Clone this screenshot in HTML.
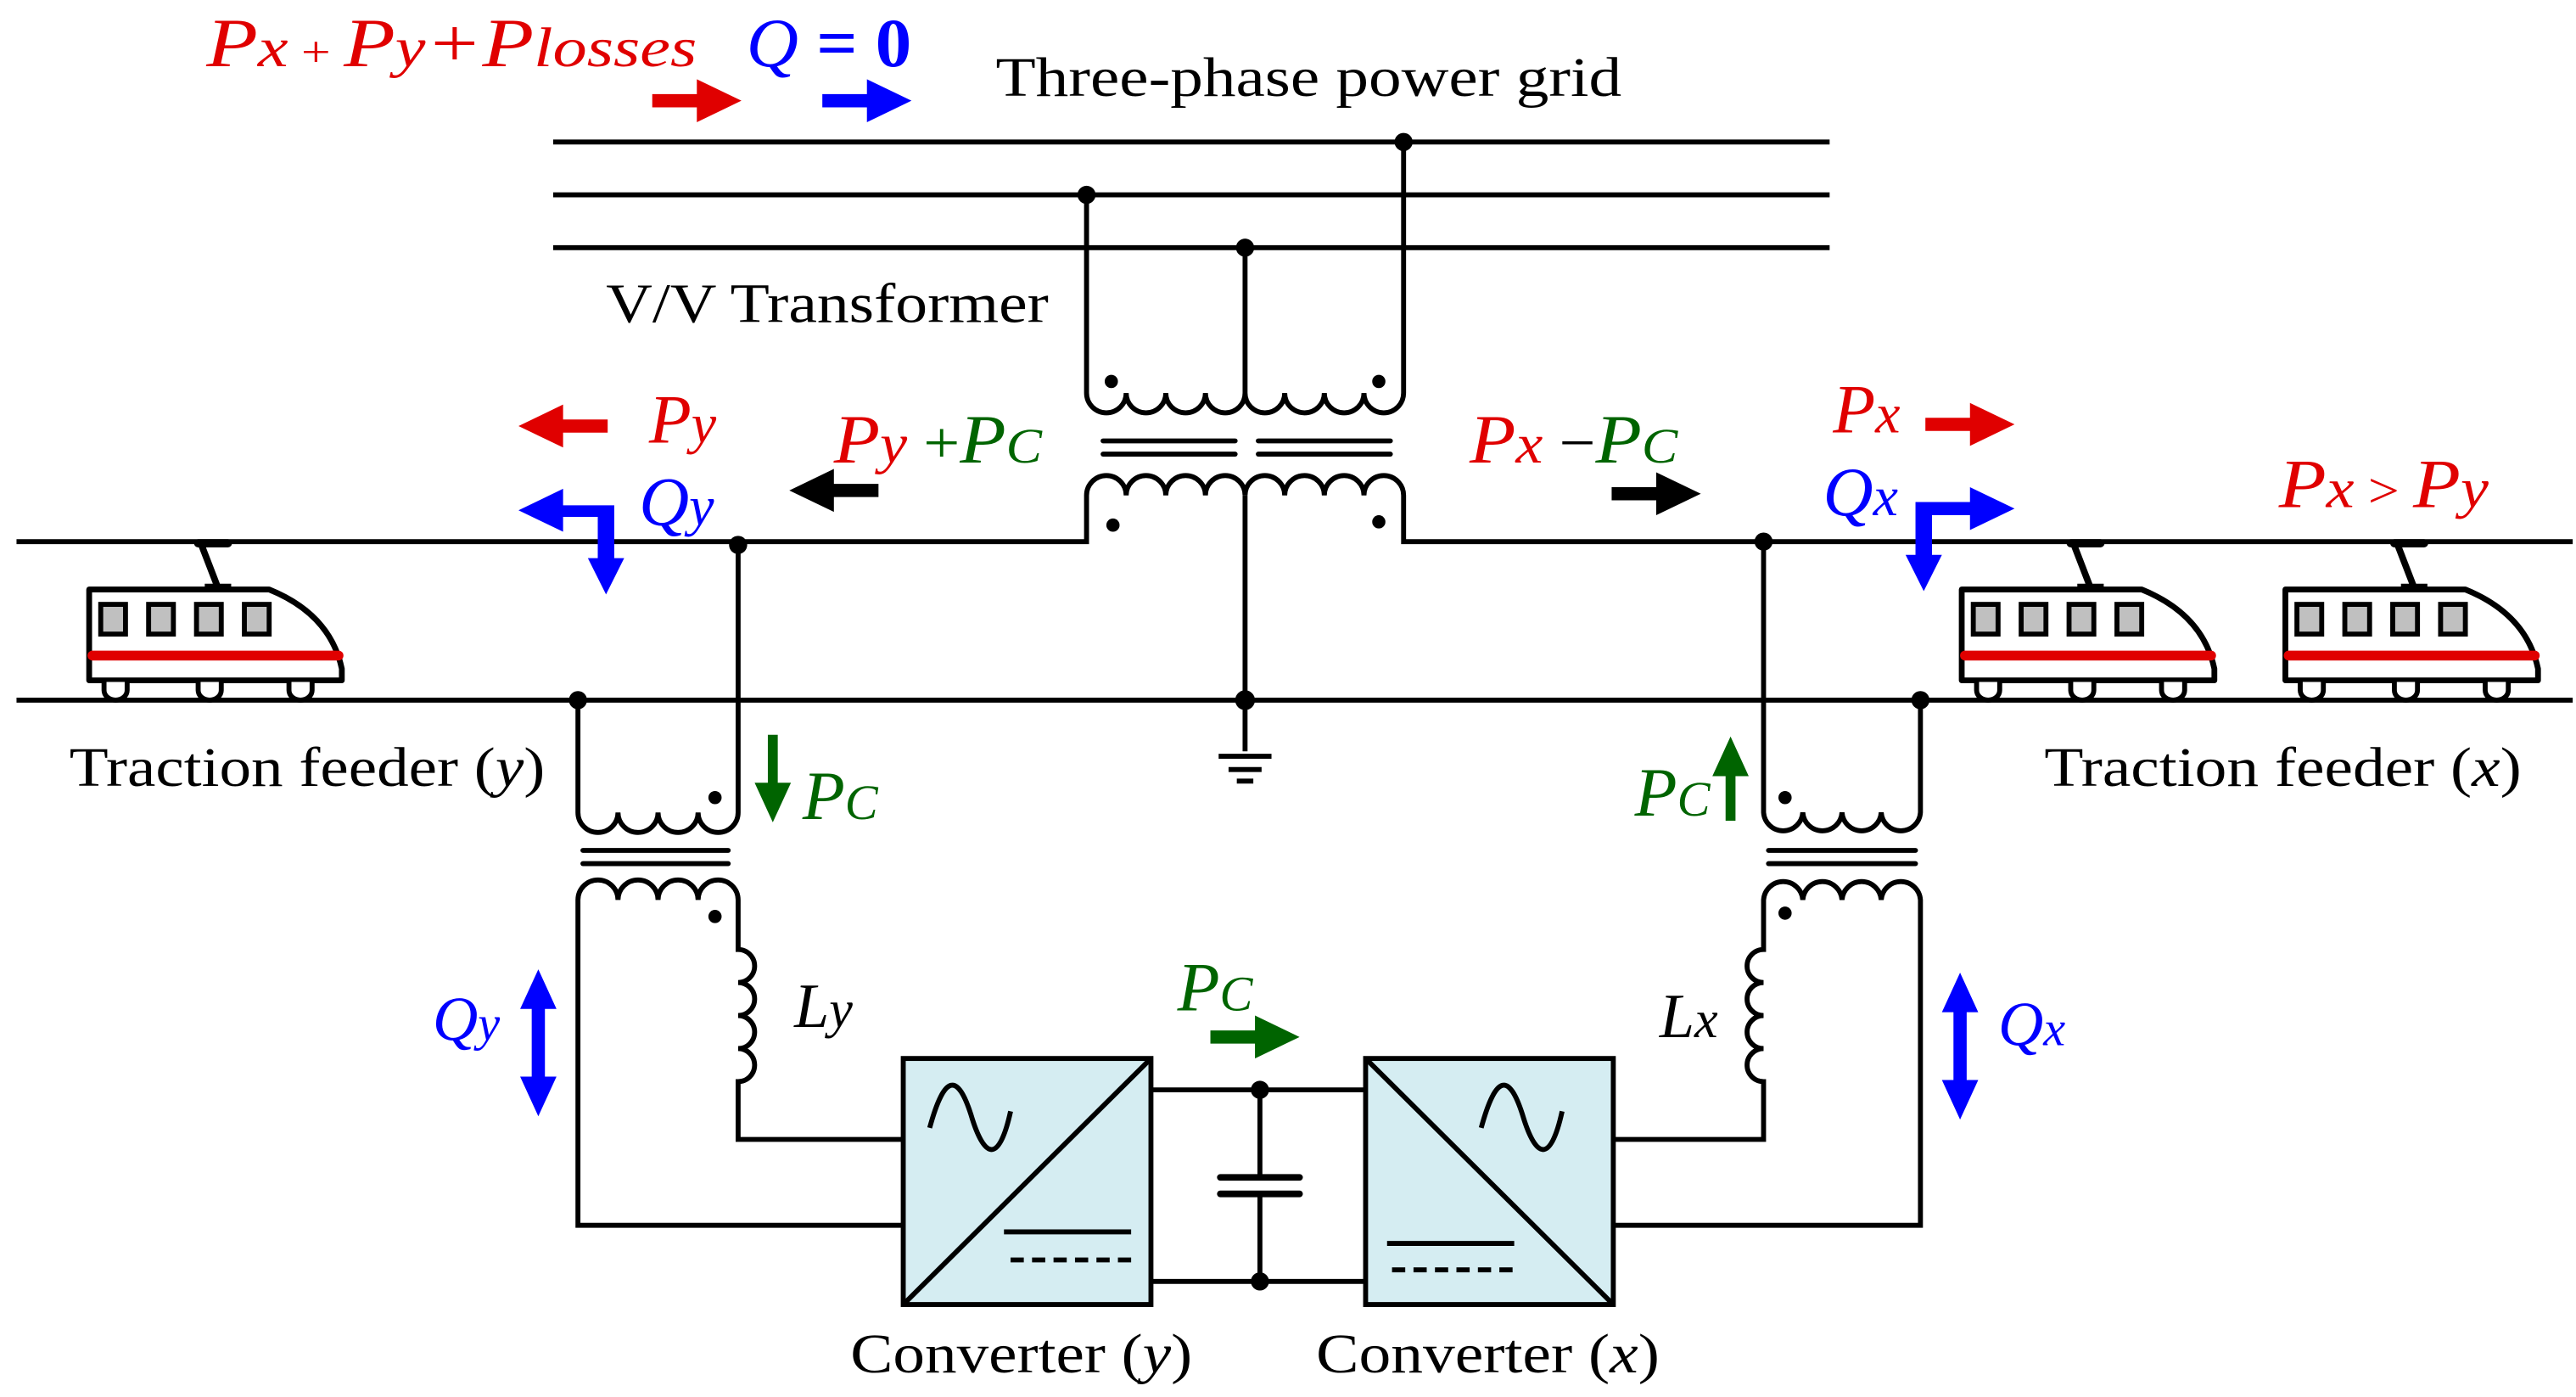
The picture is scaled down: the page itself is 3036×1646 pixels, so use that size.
<!DOCTYPE html>
<html><head><meta charset="utf-8"><style>
html,body{margin:0;padding:0;background:#fff;}
svg{display:block;}
text{font-family:"Liberation Serif","DejaVu Serif",serif;}
</style></head><body>
<svg width="3036" height="1646" viewBox="0 0 1560 846" preserveAspectRatio="none" xmlns="http://www.w3.org/2000/svg">
<defs>
<g id="train">
 <line x1="120" y1="329" x2="138" y2="329" stroke="#000" stroke-width="5" stroke-linecap="round"/>
 <line x1="122" y1="330" x2="132" y2="356" stroke="#000" stroke-width="4"/>
 <line x1="124" y1="356" x2="140" y2="356" stroke="#000" stroke-width="5"/>
 <path d="M54,357 H163 Q200,372 207,405 V412 H54 Z" fill="#fff" stroke="#000" stroke-width="3.5" stroke-linejoin="round"/>
 <rect x="61" y="366" width="15" height="18" fill="#c0c0c0" stroke="#000" stroke-width="3"/>
 <rect x="90" y="366" width="15" height="18" fill="#c0c0c0" stroke="#000" stroke-width="3"/>
 <rect x="119" y="366" width="15" height="18" fill="#c0c0c0" stroke="#000" stroke-width="3"/>
 <rect x="148" y="366" width="15" height="18" fill="#c0c0c0" stroke="#000" stroke-width="3"/>
 <line x1="56" y1="397" x2="205" y2="397" stroke="#e00000" stroke-width="6" stroke-linecap="round"/>
 <path d="M63,413 v5 a7,6 0 0 0 14,0 v-5 M120,413 v5 a7,6 0 0 0 14,0 v-5 M175,413 v5 a7,6 0 0 0 14,0 v-5" fill="#fff" stroke="#000" stroke-width="3"/>
</g>
</defs>

<g stroke="#000" stroke-width="3" fill="none">
 <line x1="335" y1="86" x2="1108" y2="86"/>
 <line x1="335" y1="118" x2="1108" y2="118"/>
 <line x1="335" y1="150" x2="1108" y2="150"/>
 <path d="M658,118 V238 a12,12 0 0 0 24,0 a12,12 0 0 0 24,0 a12,12 0 0 0 24,0 a12,12 0 0 0 24,0 a12,12 0 0 0 24,0 a12,12 0 0 0 24,0 a12,12 0 0 0 24,0 a12,12 0 0 0 24,0 V86"/>
 <line x1="754" y1="150" x2="754" y2="238"/>
 <path d="M10,328 H658 V300 a12,12 0 0 1 24,0 a12,12 0 0 1 24,0 a12,12 0 0 1 24,0 a12,12 0 0 1 24,0 a12,12 0 0 1 24,0 a12,12 0 0 1 24,0 a12,12 0 0 1 24,0 a12,12 0 0 1 24,0 V328 H1558"/>
 <line x1="754" y1="300" x2="754" y2="455"/>
 <line x1="668" y1="267" x2="748" y2="267" stroke-linecap="round"/>
 <line x1="668" y1="275" x2="748" y2="275" stroke-linecap="round"/>
 <line x1="762" y1="267" x2="842" y2="267" stroke-linecap="round"/>
 <line x1="762" y1="275" x2="842" y2="275" stroke-linecap="round"/>
 <line x1="738" y1="458" x2="770" y2="458"/>
 <line x1="744" y1="466" x2="764" y2="466"/>
 <line x1="749" y1="473" x2="759" y2="473"/>
 <line x1="10" y1="424" x2="1558" y2="424"/>

 <path d="M350,424 V492 a12.1,12.1 0 0 0 24.25,0 a12.1,12.1 0 0 0 24.25,0 a12.1,12.1 0 0 0 24.25,0 a12.1,12.1 0 0 0 24.25,0 V330"/>
 <line x1="353" y1="515" x2="441" y2="515" stroke-linecap="round"/>
 <line x1="353" y1="523" x2="441" y2="523" stroke-linecap="round"/>
 <path d="M547,742 H350 V545 a12.1,12.1 0 0 1 24.25,0 a12.1,12.1 0 0 1 24.25,0 a12.1,12.1 0 0 1 24.25,0 a12.1,12.1 0 0 1 24.25,0 V575 a10,10 0 0 1 0,20 a10,10 0 0 1 0,20 a10,10 0 0 1 0,20 a10,10 0 0 1 0,20 V690 H547"/>

 <path d="M1068,328 V492 a11.9,11.9 0 0 0 23.75,0 a11.9,11.9 0 0 0 23.75,0 a11.9,11.9 0 0 0 23.75,0 a11.9,11.9 0 0 0 23.75,0 V424"/>
 <line x1="1071" y1="515" x2="1160" y2="515" stroke-linecap="round"/>
 <line x1="1071" y1="523" x2="1160" y2="523" stroke-linecap="round"/>
 <path d="M977,742 H1163 V545 a11.9,11.9 0 0 0 -23.75,0 a11.9,11.9 0 0 0 -23.75,0 a11.9,11.9 0 0 0 -23.75,0 a11.9,11.9 0 0 0 -23.75,0 V575 a10,10 0 0 0 0,20 a10,10 0 0 0 0,20 a10,10 0 0 0 0,20 a10,10 0 0 0 0,20 V690 H977"/>

 <line x1="697" y1="660" x2="827" y2="660"/>
 <line x1="697" y1="776" x2="827" y2="776"/>
 <line x1="763" y1="660" x2="763" y2="713"/>
 <line x1="763" y1="723" x2="763" y2="776"/>
 <line x1="739" y1="713" x2="787" y2="713" stroke-width="4" stroke-linecap="round"/>
 <line x1="739" y1="723" x2="787" y2="723" stroke-width="4" stroke-linecap="round"/>
</g>

<g stroke="#000" stroke-width="3">
 <rect x="547" y="641" width="150" height="149" fill="#d5edf2"/>
 <line x1="547" y1="790" x2="697" y2="641" fill="none"/>
 <path d="M563,683 C572,650 580,650 588,675 C596,702 605,705 612,673" fill="none"/>
 <line x1="608" y1="746" x2="685" y2="746"/>
 <line x1="612" y1="763" x2="685" y2="763" stroke-dasharray="8,5"/>
 <rect x="827" y="641" width="150" height="149" fill="#d5edf2"/>
 <line x1="827" y1="641" x2="977" y2="790" fill="none"/>
 <path d="M897,683 C906,650 914,650 922,675 C930,702 939,705 946,673" fill="none"/>
 <line x1="840" y1="753" x2="917" y2="753"/>
 <line x1="843" y1="769" x2="917" y2="769" stroke-dasharray="8,5"/>
</g>

<g fill="#000">
 <circle cx="850" cy="86" r="5.5"/><circle cx="658" cy="118" r="5.5"/><circle cx="754" cy="150" r="5.5"/>
 <circle cx="447" cy="330" r="5.5"/><circle cx="350" cy="424" r="5.5"/><circle cx="754" cy="424" r="6"/>
 <circle cx="1068" cy="328" r="5.5"/><circle cx="1163" cy="424" r="5.5"/>
 <circle cx="763" cy="660" r="5.5"/><circle cx="763" cy="776" r="5.5"/>
 <circle cx="673" cy="231" r="4"/><circle cx="835" cy="231" r="4"/>
 <circle cx="674" cy="318" r="4"/><circle cx="835" cy="316" r="4"/>
 <circle cx="433" cy="483" r="4"/><circle cx="433" cy="555" r="4"/>
 <circle cx="1081" cy="483" r="4"/><circle cx="1081" cy="553" r="4"/>
</g>

<use href="#train"/>
<use href="#train" x="1134"/>
<use href="#train" x="1330"/>

<g>
 <path d="M395,57 H422 V48 L449,61 L422,74 V65 H395 Z" fill="#e00000"/>
 <path d="M498,57 H525 V48 L552,61 L525,74 V65 H498 Z" fill="#0000ff"/>
 <path d="M368,254 H341 V245 L314,258 L341,271 V262 H368 Z" fill="#e00000"/>
 <path d="M341,306 V296 L314,309 L341,322 V313 H362 V338 H356 L367,360 L378,338 H372 V306 Z" fill="#0000ff"/>
 <path d="M532,293 H505 V284 L478,297 L505,310 V301 H532 Z" fill="#000"/>
 <path d="M976,295 H1003 V286 L1030,299 L1003,312 V303 H976 Z" fill="#000"/>
 <path d="M1166,253 H1193 V244 L1220,257 L1193,270 V261 H1166 Z" fill="#e00000"/>
 <path d="M1160,336 V304 H1193 V295 L1220,308 L1193,321 V312 H1170 V336 H1176 L1165,358 L1154,336 Z" fill="#0000ff"/>
 <path d="M465,445 H471 V474 H479 L468,498 L457,474 H465 Z" fill="#006400"/>
 <path d="M1045,497 H1051 V470 H1059 L1048,446 L1037,470 H1045 Z" fill="#006400"/>
 <path d="M733,624 H760 V615 L787,628 L760,641 V632 H733 Z" fill="#006400"/>
 <path d="M326,587 L337,611 H330 V652 H337 L326,676 L315,652 H322 V611 H315 Z" fill="#0000ff"/>
 <path d="M1187,589 L1198,613 H1191 V654 H1198 L1187,678 L1176,654 H1183 V613 H1176 Z" fill="#0000ff"/>
</g>

<g font-size="34" font-family="Liberation Serif, serif">
 <text x="603" y="58" textLength="379" lengthAdjust="spacingAndGlyphs">Three-phase power grid</text>
 <text x="367" y="195" textLength="268" lengthAdjust="spacingAndGlyphs">V/V Transformer</text>
 <text x="42" y="476" textLength="288" lengthAdjust="spacingAndGlyphs">Traction feeder (<tspan font-style="italic">y</tspan>)</text>
 <text x="1238" y="476" textLength="289" lengthAdjust="spacingAndGlyphs">Traction feeder (<tspan font-style="italic">x</tspan>)</text>
 <text x="515" y="831" textLength="207" lengthAdjust="spacingAndGlyphs">Converter (<tspan font-style="italic">y</tspan>)</text>
 <text x="797" y="831" textLength="208" lengthAdjust="spacingAndGlyphs">Converter (<tspan font-style="italic">x</tspan>)</text>
</g>
<g font-style="italic" font-family="Liberation Serif, serif">
 <text x="125" y="40" font-size="42" fill="#e00000" textLength="297" lengthAdjust="spacingAndGlyphs">P<tspan font-size="34">x</tspan><tspan font-size="26" font-style="normal"> + </tspan>P<tspan font-size="34">y</tspan>+P<tspan font-size="34">losses</tspan></text>
 <text x="452" y="40" font-size="42" fill="#0000ff" textLength="100" lengthAdjust="spacingAndGlyphs">Q<tspan font-style="normal" font-weight="bold"> = 0</tspan></text>
 <text x="393" y="268" font-size="42" fill="#e00000">P<tspan font-size="34">y</tspan></text>
 <text x="387" y="318" font-size="42" fill="#0000ff">Q<tspan font-size="34">y</tspan></text>
 <text x="505" y="280" font-size="42" fill="#e00000" textLength="126" lengthAdjust="spacingAndGlyphs">P<tspan font-size="34">y</tspan><tspan fill="#006400" font-style="normal" font-size="36"> +</tspan><tspan fill="#006400">P<tspan font-size="30">C</tspan></tspan></text>
 <text x="890" y="280" font-size="42" fill="#e00000" textLength="126" lengthAdjust="spacingAndGlyphs">P<tspan font-size="34">x</tspan><tspan fill="#000" font-style="normal" font-size="36"> −</tspan><tspan fill="#006400">P<tspan font-size="30">C</tspan></tspan></text>
 <text x="1110" y="262" font-size="42" fill="#e00000">P<tspan font-size="34">x</tspan></text>
 <text x="1104" y="312" font-size="42" fill="#0000ff">Q<tspan font-size="34">x</tspan></text>
 <text x="1380" y="307" font-size="42" fill="#e00000" textLength="127" lengthAdjust="spacingAndGlyphs">P<tspan font-size="34">x</tspan><tspan font-style="normal" font-size="30"> &gt; </tspan>P<tspan font-size="34">y</tspan></text>
 <text x="486" y="496" font-size="42" fill="#006400">P<tspan font-size="30">C</tspan></text>
 <text x="990" y="494" font-size="42" fill="#006400">P<tspan font-size="30">C</tspan></text>
 <text x="713" y="612" font-size="42" fill="#006400">P<tspan font-size="30">C</tspan></text>
 <text x="262" y="630" font-size="38" fill="#0000ff">Q<tspan font-size="30">y</tspan></text>
 <text x="1210" y="633" font-size="38" fill="#0000ff">Q<tspan font-size="30">x</tspan></text>
 <text x="481" y="622" font-size="38" fill="#000">L<tspan font-size="32">y</tspan></text>
 <text x="1005" y="628" font-size="38" fill="#000">L<tspan font-size="32">x</tspan></text>
</g>
</svg>
</body></html>
